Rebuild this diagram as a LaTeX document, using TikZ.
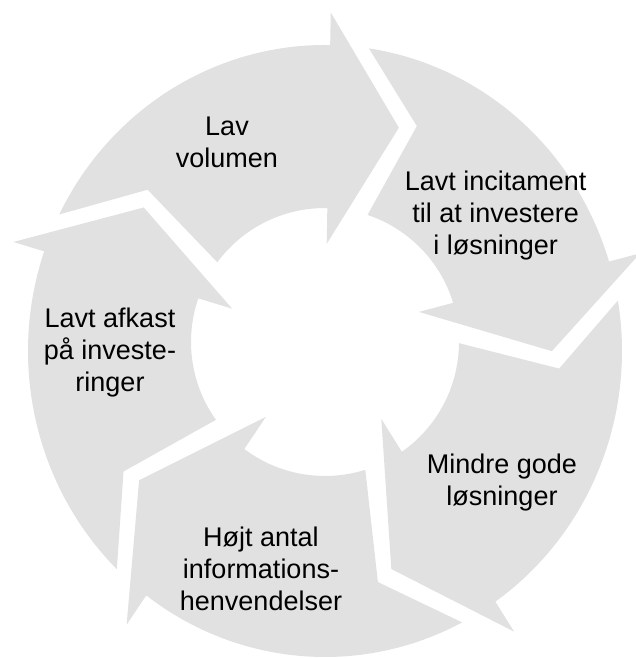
\documentclass[tikz,border=0pt]{standalone}
\usepackage{fontspec}
\setmainfont{Liberation Sans}
\usetikzlibrary{calc}
\definecolor{cyclegray}{RGB}{225,225,225}

\begin{document}
\begin{tikzpicture}[x=1pt, y=1pt,
    arrowpart/.style={fill=cyclegray},
    cyclelabel/.style={align=center, inner sep=0pt, font=\fontsize{27}{32}\selectfont}]
    \useasboundingbox (0,0) rectangle (635,658);
    % Centres of the ring
    \coordinate (co) at (325,307);
    \coordinate (ci) at (325,316);
    % Draw the five arrows
    \foreach \k in {0,...,4} {
        \pgfmathsetmacro{\hb}{89-72*\k}
        \pgfmathsetmacro{\tp}{\hb-18}
        \pgfmathsetmacro{\tao}{\hb+64.5}
        \pgfmathsetmacro{\tai}{\hb+54.5}
        \pgfmathsetmacro{\nch}{\hb+50}
        \coordinate (ib) at ($(ci)+(\hb:134)$);
        \coordinate (ob) at ($(co)+(\hb:297 and 306)$);
        \coordinate (it) at ($(ci)+(\tp:134)$);
        \coordinate (ot) at ($(co)+(\tp:297 and 306)$);
        \coordinate (in) at ($(ci)+(\nch:134)$);
        \coordinate (on) at ($(co)+(\nch:297 and 306)$);
        \fill [arrowpart] ($(co)+(\tao:297 and 306)$)
            arc [start angle=\tao, end angle=\hb, x radius=297, y radius=306]
            -- ($(ib)!1.2!(ob)$) -- ($(it)!0.57!(ot)$) -- ($(ib)!-0.22!(ob)$)
            -- (ib) arc [start angle=\hb, end angle=\tai, radius=134]
            -- ($(in)!0.62!(on)$) -- cycle;
    }
    % Labels
    \node [cyclelabel] (volumen) at (227,515.7) {Lav\\volumen};
    \node [cyclelabel] (incitament) at (495.7,442.5) {Lavt incitament\\til at investere\\i løsninger};
    \node [cyclelabel] (losninger) at (502,175.8) {Mindre gode\\løsninger};
    \node [cyclelabel] (henvendelser) at (261,88.7) {Højt antal\\informations-\\henvendelser};
    \node [cyclelabel] (afkast) at (110,305) {Lavt afkast\\på investe-\\ringer};
\end{tikzpicture}
\end{document}
